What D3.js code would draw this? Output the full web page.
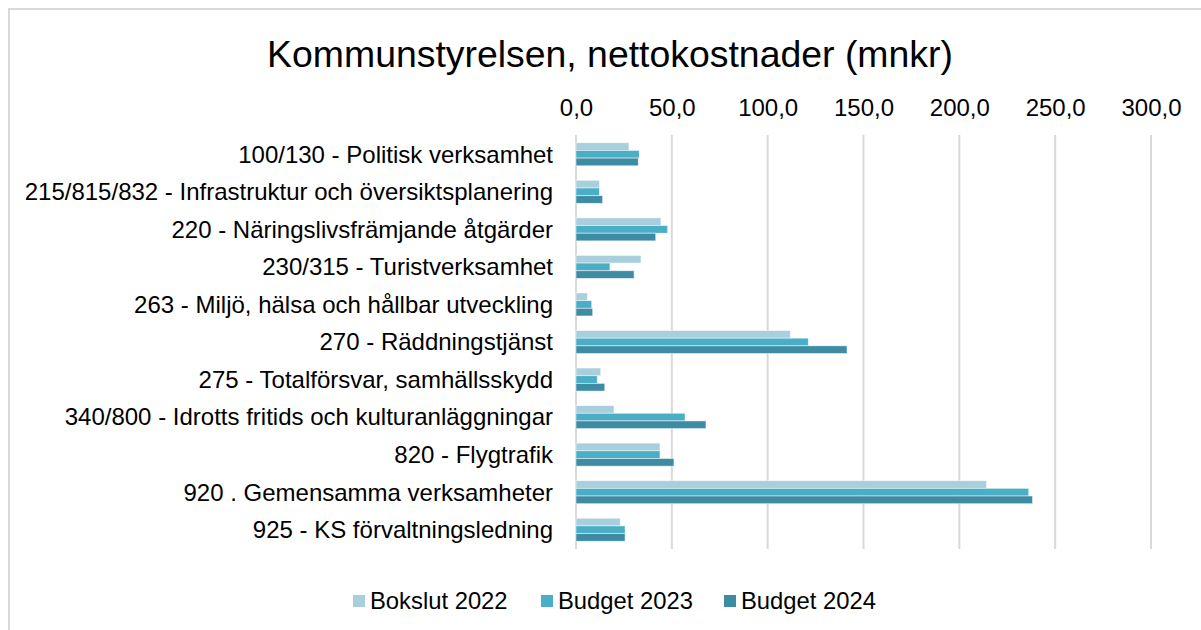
<!DOCTYPE html>
<html>
<head>
<meta charset="utf-8">
<script src="https://cdn.jsdelivr.net/npm/d3@7"></script>
<style>
  body { margin: 0; background: #fff; }
  text { font-family: "Liberation Sans", Arial, sans-serif; fill: #000; }
</style>
</head>
<body>
<script>
var width = 1201,
    height = 630;

var categories = [
  "100/130 - Politisk verksamhet",
  "215/815/832 - Infrastruktur och översiktsplanering",
  "220 - Näringslivsfrämjande åtgärder",
  "230/315 - Turistverksamhet",
  "263 - Miljö, hälsa och hållbar utveckling",
  "270 - Räddningstjänst",
  "275 - Totalförsvar, samhällsskydd",
  "340/800 - Idrotts fritids och kulturanläggningar",
  "820 - Flygtrafik",
  "920 . Gemensamma verksamheter",
  "925 - KS förvaltningsledning"
];
var seriesNames = ["Bokslut 2022", "Budget 2023", "Budget 2024"];
var bokslut2022 = [27.6, 12.2, 44.3, 33.9, 5.9, 111.8, 12.9, 19.8, 43.8, 214.2, 23.1];
var budget2023 = [33.0, 12.2, 47.8, 17.7, 8.2, 121.2, 11.1, 56.9, 43.8, 236.2, 25.6];
var budget2024 = [32.5, 13.9, 41.6, 30.3, 8.7, 141.4, 15.0, 67.8, 51.1, 238.2, 25.6];
var tickValues = [0, 50, 100, 150, 200, 250, 300];
var colors = ["#a9cfdc", "#4aaec7", "#3d8ca4"];

var seriesData = [bokslut2022, budget2023, budget2024];

var svg = d3.select("body").append("svg")
  .attr("width", width)
  .attr("height", height);

// outer chart border (runs off the right / bottom of the window)
svg.append("rect")
  .attr("x", 9).attr("y", 9)
  .attr("width", 1220).attr("height", 640)
  .attr("fill", "none")
  .attr("stroke", "#d9d9d9")
  .attr("stroke-width", 2);

svg.append("text")
  .attr("x", 610).attr("y", 67)
  .attr("text-anchor", "middle")
  .style("font-size", "37.4px")
  .text("Kommunstyrelsen, nettokostnader (mnkr)");

var x = d3.scaleLinear().domain([0, 300]).range([576, 1151]);
var y = d3.scaleBand().domain(categories).range([135.5, 548.5]);
var sub = d3.scaleBand().domain(d3.range(3))
  .range([(y.bandwidth() - 23) / 2, (y.bandwidth() + 23) / 2]);

// grid
svg.append("g").selectAll("line")
  .data(tickValues).enter().append("line")
  .attr("x1", function(d) { return x(d); })
  .attr("x2", function(d) { return x(d); })
  .attr("y1", 135).attr("y2", 549)
  .attr("stroke", "#d9d9d9")
  .attr("stroke-width", 2);

// top axis labels
var fmt = function(d) { return d3.format(".1f")(d).replace(".", ","); };
var xAxis = d3.axisTop(x).tickValues(tickValues).tickFormat(fmt).tickSize(0).tickPadding(0);
var ax = svg.append("g").attr("transform", "translate(0,116)").call(xAxis);
ax.select(".domain").remove();
ax.selectAll("text").style("font-size", "24px").style("font-family", null);

// category labels
svg.append("g").selectAll("text")
  .data(categories).enter().append("text")
  .attr("x", 553)
  .attr("y", function(d) { return y(d) + y.bandwidth() / 2; })
  .attr("dy", "0.35em")
  .attr("text-anchor", "end")
  .style("font-size", "24px")
  .text(function(d) { return d; });

// bars
var groups = svg.append("g").selectAll("g")
  .data(seriesData).enter().append("g")
  .attr("fill", function(d, i) { return colors[i]; });

groups.each(function(vals, si) {
  d3.select(this).selectAll("rect")
    .data(vals).enter().append("rect")
    .attr("x", x(0))
    .attr("y", function(d, i) { return y(categories[i]) + sub(si); })
    .attr("width", function(d) { return x(d) - x(0); })
    .attr("height", sub.bandwidth())
    .attr("stroke", "#ffffff")
    .attr("stroke-opacity", 0.6)
    .attr("stroke-width", 0.8);
});

// legend
var legendX = [353, 541, 724];
var legend = svg.append("g").selectAll("g")
  .data(seriesNames).enter().append("g")
  .attr("transform", function(d, i) { return "translate(" + legendX[i] + ",601)"; });
legend.append("rect")
  .attr("x", 0).attr("y", -6)
  .attr("width", 12).attr("height", 12)
  .attr("fill", function(d, i) { return colors[i]; });
legend.append("text")
  .attr("x", 17).attr("dy", "0.35em")
  .style("font-size", "23.8px")
  .text(function(d) { return d; });
</script>
</body>
</html>
